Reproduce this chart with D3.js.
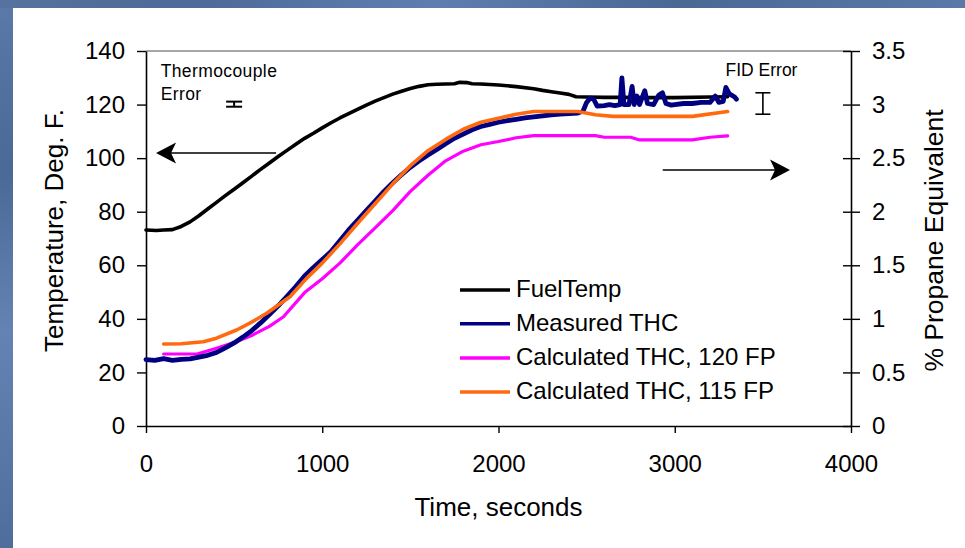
<!DOCTYPE html>
<html><head><meta charset="utf-8">
<script src="https://cdn.jsdelivr.net/npm/d3@7"></script>
<style>
html,body{margin:0;padding:0;background:#fff;}
text{font-family:"Liberation Sans",Arial,sans-serif;fill:#000;}
</style></head>
<body><svg id="c" width="965" height="548"></svg>
<script>
// ---- data (time in seconds) ----
const xTicks = [0, 1000, 2000, 3000, 4000];
const leftTicks = [0, 20, 40, 60, 80, 100, 120, 140];
const rightTicks = [0, 0.5, 1, 1.5, 2, 2.5, 3, 3.5];
const seriesNames = ["FuelTemp", "Measured THC", "Calculated THC, 120 FP", "Calculated THC, 115 FP"];

// FuelTemp, deg F (left axis)
const fuelTemp = [[0,73.2],[60,73.0],[100,73.2],[150,73.3],[200,74.5],[250,76.2],[300,78.5],[350,81],[400,83.5],[450,86],[500,88.4],[550,90.8],[600,93.3],[650,95.8],[700,98.2],[750,100.6],[800,102.9],[850,105.2],[900,107.4],[950,109.3],[1000,111.3],[1050,113.2],[1100,115],[1150,116.6],[1200,118.2],[1250,119.8],[1300,121.3],[1350,122.6],[1400,123.9],[1450,125],[1500,126],[1550,126.8],[1600,127.4],[1650,127.6],[1700,127.7],[1750,127.8],[1780,128.3],[1820,128.2],[1850,127.8],[1900,127.7],[2000,127.3],[2100,126.7],[2200,125.9],[2250,125.3],[2300,124.8],[2350,124.3],[2400,123.8],[2440,122.9],[2500,122.8],[2600,122.7],[2700,122.7],[2800,122.6],[3000,122.6],[3200,122.8],[3300,122.9]];

// Measured THC, % propane equivalent (right axis)
const measuredTHC = [[0,0.62],[50,0.612],[100,0.628],[150,0.613],[200,0.622],[250,0.626],[300,0.642],[350,0.66],[400,0.686],[450,0.73],[500,0.775],[550,0.83],[600,0.89],[650,0.962],[700,1.04],[750,1.122],[800,1.21],[850,1.302],[900,1.4],[950,1.48],[1000,1.553],[1050,1.628],[1100,1.73],[1150,1.83],[1200,1.92],[1250,2.01],[1300,2.1],[1350,2.19],[1400,2.27],[1450,2.345],[1500,2.415],[1550,2.475],[1600,2.53],[1650,2.58],[1700,2.635],[1750,2.685],[1800,2.725],[1850,2.765],[1900,2.795],[1950,2.815],[2000,2.835],[2050,2.85],[2100,2.862],[2150,2.875],[2200,2.885],[2250,2.895],[2300,2.905],[2350,2.91],[2400,2.915],[2450,2.92],[2480,2.94],[2500,3.02],[2520,3.06],[2540,3.05],[2560,2.985],[2600,2.99],[2630,3.0],[2660,2.99],[2690,3.0],[2700,3.25],[2712,3.0],[2740,3.0],[2758,3.17],[2770,3.0],[2785,3.08],[2800,3.0],[2830,3.13],[2845,3.01],[2880,3.0],[2910,3.09],[2930,3.11],[2950,3.01],[2980,2.995],[3000,3.0],[3050,3.01],[3100,3.01],[3150,3.02],[3200,3.02],[3230,3.08],[3250,3.02],[3275,3.03],[3290,3.16],[3310,3.1],[3340,3.07],[3350,3.05]];

// Calculated THC, 120 FP (right axis)
const calc120 = [[100,0.672],[200,0.672],[290,0.672],[400,0.725],[500,0.78],[600,0.845],[700,0.93],[780,1.02],[900,1.245],[1000,1.375],[1100,1.52],[1200,1.69],[1300,1.85],[1400,2.01],[1500,2.19],[1600,2.34],[1700,2.475],[1800,2.565],[1900,2.625],[2000,2.655],[2100,2.69],[2200,2.71],[2300,2.71],[2450,2.71],[2550,2.71],[2600,2.695],[2750,2.695],[2800,2.67],[3100,2.67],[3200,2.695],[3300,2.707]];

// Calculated THC, 115 FP (right axis)
const calc115 = [[100,0.765],[200,0.767],[325,0.787],[400,0.82],[514,0.896],[600,0.97],[685,1.052],[817,1.207],[911,1.378],[1000,1.52],[1100,1.7],[1200,1.89],[1300,2.075],[1400,2.26],[1500,2.43],[1600,2.57],[1700,2.675],[1800,2.77],[1900,2.835],[2000,2.872],[2100,2.91],[2200,2.935],[2300,2.935],[2450,2.935],[2550,2.905],[2650,2.89],[2800,2.89],[3100,2.89],[3300,2.935]];

// error bars: [time, low, high]
const thermoErr = [500, 119.2, 121.1];
const fidErr = [3500, 2.91, 3.11];

// ---- drawing ----
const svg = d3.select("#c");
const W = 965, H = 548;

// slide background
const defs = svg.append("defs");
const g1 = defs.append("linearGradient").attr("id","bg").attr("x1",0).attr("y1",0).attr("x2",1).attr("y2",0);
[["0%","#56739f"],["20%","#4d6a98"],["45%","#5f7eb0"],["70%","#4a6894"],["100%","#5b79a8"]].forEach(s=>g1.append("stop").attr("offset",s[0]).attr("stop-color",s[1]));
const g2 = defs.append("linearGradient").attr("id","bgv").attr("x1",0).attr("y1",0).attr("x2",0).attr("y2",1);
[["0%","#5a78a8"],["30%","#4b6996"],["60%","#6483b4"],["100%","#4f6d9c"]].forEach(s=>g2.append("stop").attr("offset",s[0]).attr("stop-color",s[1]));
svg.append("rect").attr("width",W).attr("height",H).attr("fill","url(#bg)");
svg.append("rect").attr("x",0).attr("y",8).attr("width",13).attr("height",H-8).attr("fill","url(#bgv)");
svg.append("rect").attr("x",13).attr("y",8).attr("width",W-13).attr("height",H-8).attr("fill","#fff");

const x = d3.scaleLinear().domain([0,4000]).range([146,851]);
const yL = d3.scaleLinear().domain([0,140]).range([426,51]);
const yR = d3.scaleLinear().domain([0,3.5]).range([426,51]);

// top border of plot area
svg.append("line").attr("x1",x(0)).attr("x2",x(4000)).attr("y1",yL(140)).attr("y2",yL(140))
  .attr("stroke","#8a8a8a").attr("stroke-width",1.5);

const tickFont = 24;
// left axis
const ax = svg.append("g").attr("transform",`translate(${x(0)},0)`)
  .call(d3.axisLeft(yL).tickValues(leftTicks).tickSizeInner(9).tickSizeOuter(0).tickPadding(12).tickFormat(d3.format("d")));
// right axis
const ar = svg.append("g").attr("transform",`translate(${x(4000)},0)`)
  .call(d3.axisRight(yR).tickValues(rightTicks).tickSizeInner(9).tickSizeOuter(0).tickPadding(12).tickFormat(d=>String(d)));
ar.selectAll(".tick line").attr("x1",-8);
// bottom axis
const ab = svg.append("g").attr("transform",`translate(0,${yL(0)})`)
  .call(d3.axisBottom(x).tickValues(xTicks).tickSizeInner(7).tickSizeOuter(0).tickPadding(22).tickFormat(d3.format("d")));
[ax,ar,ab].forEach(a=>{
  a.selectAll("path.domain").attr("stroke","#000").attr("stroke-width",1.6);
  a.selectAll(".tick line").attr("stroke","#000").attr("stroke-width",1.4);
  a.selectAll("text").attr("font-size",tickFont).attr("font-family","Liberation Sans, Arial, sans-serif").attr("fill","#000");
});

// axis titles
svg.append("text").attr("transform",`translate(63,${(yL(0)+yL(140))/2-8}) rotate(-90)`)
  .attr("text-anchor","middle").attr("font-size",26).text("Temperature, Deg. F.");
svg.append("text").attr("transform",`translate(943,${(yL(0)+yL(140))/2+2}) rotate(-90)`)
  .attr("text-anchor","middle").attr("font-size",26.5).text("% Propane Equivalent");
svg.append("text").attr("x",(x(0)+x(4000))/2).attr("y",516)
  .attr("text-anchor","middle").attr("font-size",26).text("Time, seconds");

// lines
const lineL = d3.line().x(d=>x(d[0])).y(d=>yL(d[1]));
const lineR = d3.line().x(d=>x(d[0])).y(d=>yR(d[1]));
const colors = ["#000000","#000080","#ff00ff","#ff6a10"];
const widths = [3.6,4.8,3.2,3.6];
const plot = svg.append("g").attr("fill","none").attr("stroke-linejoin","round").attr("stroke-linecap","round");
plot.append("path").datum(calc120).attr("d",lineR).attr("stroke",colors[2]).attr("stroke-width",widths[2]);
plot.append("path").datum(fuelTemp).attr("d",lineL).attr("stroke",colors[0]).attr("stroke-width",widths[0]);
plot.append("path").datum(measuredTHC).attr("d",lineR).attr("stroke",colors[1]).attr("stroke-width",widths[1]);
plot.append("path").datum(calc115).attr("d",lineR).attr("stroke",colors[3]).attr("stroke-width",widths[3]);

// error bars
function errBar(xp, y1, y2, hw, sw){
  const g = svg.append("g").attr("stroke","#000").attr("stroke-width",sw);
  g.append("line").attr("x1",xp).attr("x2",xp).attr("y1",y1).attr("y2",y2);
  g.append("line").attr("x1",xp-hw).attr("x2",xp+hw).attr("y1",y1).attr("y2",y1);
  g.append("line").attr("x1",xp-hw).attr("x2",xp+hw).attr("y1",y2).attr("y2",y2);
}
errBar(x(thermoErr[0]), yL(thermoErr[1]), yL(thermoErr[2]), 8, 2);
errBar(x(fidErr[0]), yR(fidErr[1]), yR(fidErr[2]), 7.5, 1.6);

// annotations
svg.append("text").attr("x",x(83)).attr("y",76.7).attr("font-size",17.5).attr("letter-spacing",0.4).text("Thermocouple");
svg.append("text").attr("x",x(83)).attr("y",100).attr("font-size",17.5).attr("letter-spacing",0.4).text("Error");
svg.append("text").attr("x",x(3288)).attr("y",76).attr("font-size",17.5).text("FID Error");

// arrows
function arrow(x1, x2, yp){
  const dir = Math.sign(x2-x1);
  svg.append("line").attr("x1",x1).attr("x2",x2 - dir*10).attr("y1",yp).attr("y2",yp).attr("stroke","#000").attr("stroke-width",1.6);
  const L = 20, hw = 10.5, notch = 5;
  svg.append("path").attr("d",`M${x2},${yp} L${x2-dir*L},${yp-hw} L${x2-dir*(L-notch)},${yp} L${x2-dir*L},${yp+hw} Z`).attr("fill","#000");
}
arrow(x(738), x(57), yL(101.9));
arrow(x(2932), x(3654), yR(2.39));

// legend
const legY = [290, 323.7, 358, 392];
const leg = svg.append("g");
seriesNames.forEach((n,i)=>{
  leg.append("line").attr("x1",460).attr("x2",510).attr("y1",legY[i]).attr("y2",legY[i])
    .attr("stroke",colors[i]).attr("stroke-width",3.6);
  leg.append("text").attr("x",516).attr("y",legY[i]+6.8).attr("font-size",24).text(n);
});
</script></body></html>
